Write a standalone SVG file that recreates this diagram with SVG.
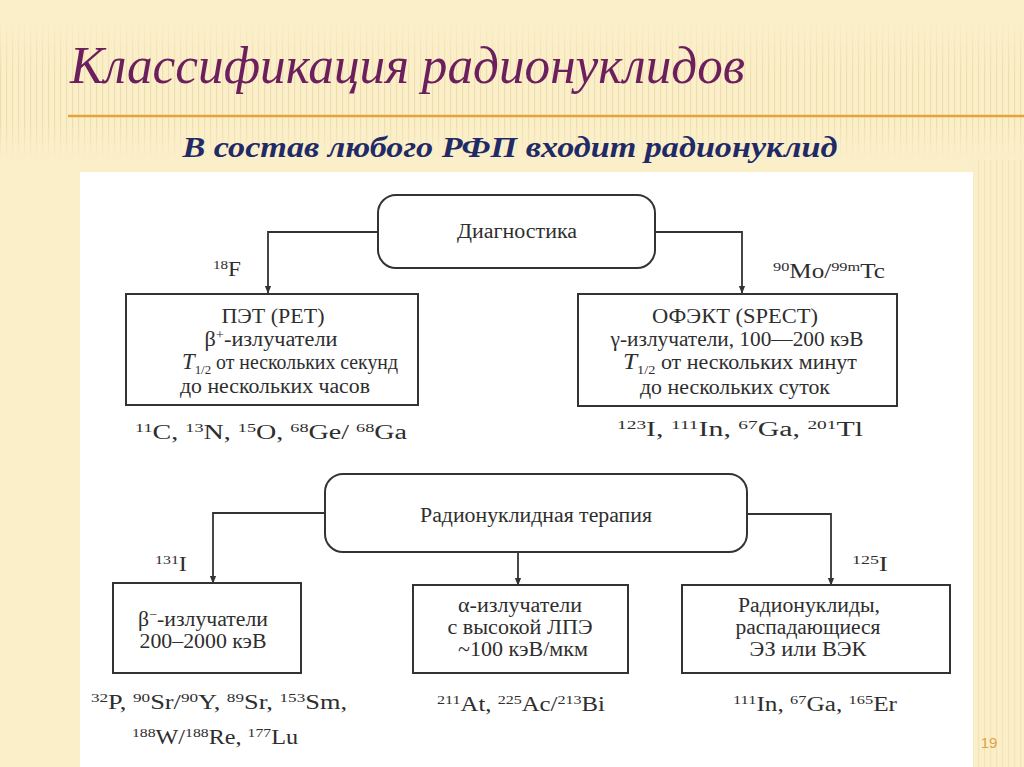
<svg xmlns="http://www.w3.org/2000/svg" width="1024" height="767" viewBox="0 0 1024 767">
<defs>
<style>
.t{font-family:"Liberation Serif","DejaVu Serif",serif;font-size:20px;fill:#2e2e2e;text-anchor:middle}
.s{font-size:13px}
.it{font-style:italic;font-size:23px}
.box{fill:#fff;stroke:#333;stroke-width:2}
.con{fill:none;stroke:#333;stroke-width:1.8}
</style>
<marker id="ah" viewBox="0 0 10 10" refX="9" refY="5" markerWidth="8" markerHeight="8" orient="auto" markerUnits="userSpaceOnUse">
<path d="M0,1 L10,5 L0,9 z" fill="#333"/>
</marker>
<pattern id="stripes" width="6" height="10" patternUnits="userSpaceOnUse">
<rect x="0" y="0" width="1.2" height="10" fill="#e6d197" opacity="0.55"/>
</pattern>
<linearGradient id="fadeV" x1="0" y1="0" x2="0" y2="1">
<stop offset="0" stop-color="#fff" stop-opacity="0"/>
<stop offset="0.35" stop-color="#fff" stop-opacity="1"/>
<stop offset="0.75" stop-color="#fff" stop-opacity="1"/>
<stop offset="1" stop-color="#fff" stop-opacity="0"/>
</linearGradient>
<mask id="topMask"><rect x="0" y="20" width="1024" height="140" fill="url(#fadeV)"/></mask>
</defs>
<rect x="0" y="0" width="1024" height="767" fill="#fbefca"/>
<rect x="0" y="20" width="1024" height="140" fill="url(#stripes)" mask="url(#topMask)"/>
<rect x="973" y="160" width="51" height="607" fill="url(#stripes)" opacity="0.7"/>
<line x1="68" y1="116" x2="1024" y2="116" stroke="#e3a43a" stroke-width="2.5"/>
<text x="70" y="83" font-family="'Liberation Serif','DejaVu Serif',serif" font-style="italic" font-size="52" fill="#6b1f5c" textLength="675" lengthAdjust="spacingAndGlyphs">Классификация радионуклидов</text>
<text x="510" y="157" font-family="'Liberation Serif','DejaVu Serif',serif" font-style="italic" font-weight="bold" font-size="30" fill="#1f2a66" text-anchor="middle" textLength="655" lengthAdjust="spacingAndGlyphs">В состав любого РФП входит радионуклид</text>
<rect x="80" y="172" width="893" height="595" fill="#ffffff"/>
<text x="989" y="748" font-family="'Liberation Sans',sans-serif" font-size="15" fill="#e0a24a" text-anchor="middle">19</text>

<g id="connectors">
<path class="con" d="M378,232 H268 V293" marker-end="url(#ah)"/>
<path class="con" d="M655,232 H742 V293" marker-end="url(#ah)"/>
<path class="con" d="M325,513 H213 V583" marker-end="url(#ah)"/>
<path class="con" d="M518,553 V585" marker-end="url(#ah)"/>
<path class="con" d="M747,514 H831 V585" marker-end="url(#ah)"/>
</g>

<g id="diag">
<rect class="box" x="378" y="195" width="277" height="73" rx="18"/>
<text class="t" x="517" y="238" textLength="120" lengthAdjust="spacingAndGlyphs">Диагностика</text>
</g>
<g id="pet">
<rect class="box" x="126" y="294" width="292" height="111"/>
<text class="t" x="273" y="323" textLength="103" lengthAdjust="spacingAndGlyphs">ПЭТ (PET)</text>
<text class="t" x="271" y="346" textLength="133" lengthAdjust="spacingAndGlyphs">β<tspan class="s" dy="-7">+</tspan><tspan dy="7">-излучатели</tspan></text>
<text class="t" x="290" y="369" textLength="216" lengthAdjust="spacingAndGlyphs"><tspan class="it">T</tspan><tspan class="s" dy="5">1/2</tspan><tspan dy="-5"> от нескольких секунд</tspan></text>
<text class="t" x="275" y="393" textLength="190" lengthAdjust="spacingAndGlyphs">до нескольких часов</text>
<text class="t" x="227" y="276" textLength="28" lengthAdjust="spacingAndGlyphs"><tspan class="s" dy="-7">18</tspan><tspan dy="7">F</tspan></text>
<text class="t" x="271" y="439" textLength="272" lengthAdjust="spacingAndGlyphs"><tspan class="s" dy="-7">11</tspan><tspan dy="7">C,  </tspan><tspan class="s" dy="-7">13</tspan><tspan dy="7">N,   </tspan><tspan class="s" dy="-7">15</tspan><tspan dy="7">O, </tspan><tspan class="s" dy="-7">68</tspan><tspan dy="7">Ge/ </tspan><tspan class="s" dy="-7">68</tspan><tspan dy="7">Ga</tspan></text>
</g>
<g id="spect">
<rect class="box" x="578" y="294" width="319" height="112"/>
<text class="t" x="735" y="323" textLength="166" lengthAdjust="spacingAndGlyphs">ОФЭКТ (SPECT)</text>
<text class="t" x="737" y="346" textLength="253" lengthAdjust="spacingAndGlyphs">γ-излучатели, 100—200 кэВ</text>
<text class="t" x="740" y="369" textLength="234" lengthAdjust="spacingAndGlyphs"><tspan class="it">T</tspan><tspan class="s" dy="5">1/2</tspan><tspan dy="-5"> от нескольких минут</tspan></text>
<text class="t" x="735" y="394" textLength="190" lengthAdjust="spacingAndGlyphs">до нескольких суток</text>
<text class="t" x="829" y="278" textLength="112" lengthAdjust="spacingAndGlyphs"><tspan class="s" dy="-7">90</tspan><tspan dy="7">Mo/</tspan><tspan class="s" dy="-7">99m</tspan><tspan dy="7">Tc</tspan></text>
<text class="t" x="740" y="436" textLength="246" lengthAdjust="spacingAndGlyphs"><tspan class="s" dy="-7">123</tspan><tspan dy="7">I,   </tspan><tspan class="s" dy="-7">111</tspan><tspan dy="7">In,   </tspan><tspan class="s" dy="-7">67</tspan><tspan dy="7">Ga,   </tspan><tspan class="s" dy="-7">201</tspan><tspan dy="7">Tl</tspan></text>
</g>
<g id="therapy">
<rect class="box" x="325" y="474" width="422" height="78" rx="18"/>
<text class="t" x="536" y="522" textLength="232" lengthAdjust="spacingAndGlyphs">Радионуклидная терапия</text>
</g>
<g id="beta">
<rect class="box" x="113" y="583" width="188" height="90"/>
<text class="t" x="203" y="626" textLength="130" lengthAdjust="spacingAndGlyphs">β<tspan class="s" dy="-7">−</tspan><tspan dy="7">-излучатели</tspan></text>
<text class="t" x="203" y="648" textLength="127" lengthAdjust="spacingAndGlyphs">200–2000 кэВ</text>
<text class="t" x="171" y="571" textLength="32" lengthAdjust="spacingAndGlyphs"><tspan class="s" dy="-7">131</tspan><tspan dy="7">I</tspan></text>
<text class="t" x="219" y="709" textLength="256" lengthAdjust="spacingAndGlyphs"><tspan class="s" dy="-7">32</tspan><tspan dy="7">P, </tspan><tspan class="s" dy="-7">90</tspan><tspan dy="7">Sr/</tspan><tspan class="s" dy="-7">90</tspan><tspan dy="7">Y, </tspan><tspan class="s" dy="-7">89</tspan><tspan dy="7">Sr, </tspan><tspan class="s" dy="-7">153</tspan><tspan dy="7">Sm,</tspan></text>
<text class="t" x="215" y="744" textLength="166" lengthAdjust="spacingAndGlyphs"><tspan class="s" dy="-7">188</tspan><tspan dy="7">W/</tspan><tspan class="s" dy="-7">188</tspan><tspan dy="7">Re, </tspan><tspan class="s" dy="-7">177</tspan><tspan dy="7">Lu</tspan></text>
</g>
<g id="alpha">
<rect class="box" x="413" y="585" width="215" height="88"/>
<text class="t" x="520" y="612" textLength="124" lengthAdjust="spacingAndGlyphs">α-излучатели</text>
<text class="t" x="520" y="634" textLength="145" lengthAdjust="spacingAndGlyphs">с высокой ЛПЭ</text>
<text class="t" x="523" y="656" textLength="130" lengthAdjust="spacingAndGlyphs">~100 кэВ/мкм</text>
<text class="t" x="521" y="711" textLength="168" lengthAdjust="spacingAndGlyphs"><tspan class="s" dy="-7">211</tspan><tspan dy="7">At, </tspan><tspan class="s" dy="-7">225</tspan><tspan dy="7">Ac/</tspan><tspan class="s" dy="-7">213</tspan><tspan dy="7">Bi</tspan></text>
</g>
<g id="ec">
<rect class="box" x="682" y="585" width="268" height="88"/>
<text class="t" x="809" y="612" textLength="142" lengthAdjust="spacingAndGlyphs">Радионуклиды,</text>
<text class="t" x="808" y="634" textLength="145" lengthAdjust="spacingAndGlyphs">распадающиеся</text>
<text class="t" x="808" y="656" textLength="117" lengthAdjust="spacingAndGlyphs">ЭЗ или ВЭК</text>
<text class="t" x="870" y="571" textLength="36" lengthAdjust="spacingAndGlyphs"><tspan class="s" dy="-7">125</tspan><tspan dy="7">I</tspan></text>
<text class="t" x="815" y="711" textLength="164" lengthAdjust="spacingAndGlyphs"><tspan class="s" dy="-7">111</tspan><tspan dy="7">In, </tspan><tspan class="s" dy="-7">67</tspan><tspan dy="7">Ga, </tspan><tspan class="s" dy="-7">165</tspan><tspan dy="7">Er</tspan></text>
</g>
</svg>
